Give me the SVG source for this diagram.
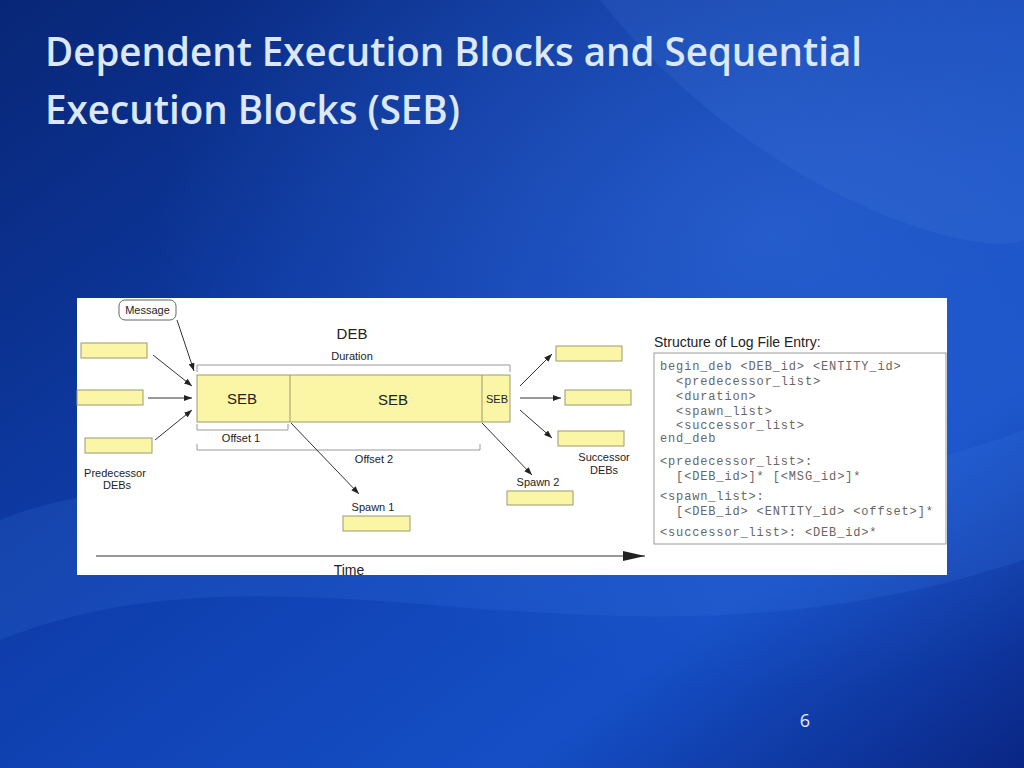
<svg xmlns="http://www.w3.org/2000/svg" width="1024" height="768" viewBox="0 0 1024 768">
<defs>
<linearGradient id="bg" x1="0" y1="0" x2="1" y2="1">
<stop offset="0" stop-color="#082676"/><stop offset="0.45" stop-color="#0f3fae"/><stop offset="0.75" stop-color="#154fc6"/><stop offset="1" stop-color="#0a2684"/>
</linearGradient>
<radialGradient id="glow" cx="0.75" cy="0.3" r="0.6">
<stop offset="0" stop-color="#3f7ae6" stop-opacity="0.45"/><stop offset="1" stop-color="#3f7ae6" stop-opacity="0"/>
</radialGradient>
<marker id="ah" markerWidth="8" markerHeight="6" refX="8" refY="3" orient="auto" markerUnits="userSpaceOnUse"><path d="M0,0 L8,3 L0,6 z" fill="#222"/></marker>
<marker id="big" markerWidth="22" markerHeight="10" refX="22" refY="5" orient="auto" markerUnits="userSpaceOnUse"><path d="M0,0 L22,5 L0,10 z" fill="#222"/></marker>
<style>
.s{font-family:"Liberation Sans",Arial,sans-serif;fill:#222}
.m{font-family:"Liberation Mono","Courier New",monospace;font-size:12px;letter-spacing:0.85px;fill:#666}
.y{fill:#fbf5a6;stroke:#9a9a70;stroke-width:1}
.c{stroke:#333;stroke-width:1;fill:none}
.br{stroke:#999;stroke-width:1;fill:none}
</style>
</defs>
<rect width="1024" height="768" fill="url(#bg)"/>
<rect width="1024" height="768" fill="url(#glow)"/>
<path d="M0,520 C250,420 550,600 1024,430 L1024,560 C600,700 300,520 0,640 z" fill="#3f7ae6" opacity="0.18"/>
<path d="M600,0 C760,200 980,260 1024,240 L1024,0 z" fill="#5b95f2" opacity="0.12"/>
<g id="title" font-family="'Open Sans','Noto Sans',sans-serif" font-weight="600" font-size="40" fill="#dce8f8">
<text x="45" y="66" textLength="817" lengthAdjust="spacingAndGlyphs">Dependent Execution Blocks and Sequential</text>
<text x="45" y="124" textLength="415" lengthAdjust="spacingAndGlyphs">Execution Blocks (SEB)</text>
</g>
<rect x="77" y="298" width="870" height="277" fill="#fff"/>
<g id="nodes">
<g id="message"><rect x="119" y="300" width="57" height="20" rx="6" fill="#fff" stroke="#666"/><text class="s" x="147.5" y="314" font-size="11" text-anchor="middle">Message</text></g>
<g id="deb"><text class="s" x="352" y="339" font-size="15" text-anchor="middle">DEB</text>
<rect class="y" x="197" y="375" width="313" height="47"/>
<line x1="290" y1="375" x2="290" y2="422" stroke="#9a9a70"/><line x1="482" y1="375" x2="482" y2="422" stroke="#9a9a70"/>
<text class="s" x="242" y="404" font-size="15" text-anchor="middle">SEB</text>
<text class="s" x="393" y="405" font-size="15" text-anchor="middle">SEB</text>
<text class="s" x="497" y="403" font-size="11" text-anchor="middle">SEB</text></g>
<g id="brackets">
<path class="br" d="M197,372 V365 H510 V372"/><text class="s" x="352" y="360" font-size="11" text-anchor="middle">Duration</text>
<path class="br" d="M197,424 V430 H288 V424"/><text class="s" x="241" y="442" font-size="11" text-anchor="middle">Offset 1</text>
<path class="br" d="M197,444 V450 H480 V444"/><text class="s" x="374" y="463" font-size="11" text-anchor="middle">Offset 2</text>
</g>
<g id="pred"><rect class="y" x="81" y="343" width="66" height="15"/><rect class="y" x="77" y="390" width="66" height="15"/><rect class="y" x="85" y="438" width="67" height="15"/>
<text class="s" font-size="11" text-anchor="middle"><tspan x="115" y="477">Predecessor</tspan><tspan x="117" y="489">DEBs</tspan></text></g>
<g id="succ"><rect class="y" x="556" y="346" width="66" height="15"/><rect class="y" x="565" y="390" width="66" height="15"/><rect class="y" x="558" y="431" width="66" height="15"/>
<text class="s" font-size="11" text-anchor="middle"><tspan x="604" y="461">Successor</tspan><tspan x="604" y="474">DEBs</tspan></text></g>
<g id="spawn1"><text class="s" x="373" y="511" font-size="11" text-anchor="middle">Spawn 1</text><rect class="y" x="343" y="516" width="67" height="15"/></g>
<g id="spawn2"><text class="s" x="538" y="486" font-size="11" text-anchor="middle">Spawn 2</text><rect class="y" x="507" y="491" width="66" height="14"/></g>
<g id="time"><text class="s" x="349" y="575" font-size="14" text-anchor="middle">Time</text></g>
</g>
<g id="connectors">
<line class="c" x1="177" y1="320" x2="194" y2="371" marker-end="url(#ah)"/>
<line class="c" x1="153" y1="355" x2="192" y2="386" marker-end="url(#ah)"/>
<line class="c" x1="148" y1="398" x2="192" y2="398" marker-end="url(#ah)"/>
<line class="c" x1="155" y1="440" x2="192" y2="410" marker-end="url(#ah)"/>
<line class="c" x1="520" y1="386" x2="552" y2="354" marker-end="url(#ah)"/>
<line class="c" x1="520" y1="398" x2="561" y2="398" marker-end="url(#ah)"/>
<line class="c" x1="520" y1="410" x2="552" y2="438" marker-end="url(#ah)"/>
<line class="c" x1="291" y1="423" x2="359" y2="494" marker-end="url(#ah)"/>
<line class="c" x1="482" y1="423" x2="532" y2="475" marker-end="url(#ah)"/>
<line class="c" x1="96" y1="556" x2="645" y2="556" stroke-width="1.5" marker-end="url(#big)"/>
</g>
<g id="log">
<text class="s" x="654" y="347" font-size="14">Structure of Log File Entry:</text>
<rect x="654" y="353" width="292" height="191" fill="#fff" stroke="#999"/>
<text class="m" xml:space="preserve"><tspan x="660" y="370">begin_deb &lt;DEB_id&gt; &lt;ENTITY_id&gt;</tspan><tspan x="660" y="385">  &lt;predecessor_list&gt;</tspan><tspan x="660" y="400">  &lt;duration&gt;</tspan><tspan x="660" y="415">  &lt;spawn_list&gt;</tspan><tspan x="660" y="429">  &lt;successor_list&gt;</tspan><tspan x="660" y="442">end_deb</tspan><tspan x="660" y="465">&lt;predecessor_list&gt;:</tspan><tspan x="660" y="480">  [&lt;DEB_id&gt;]* [&lt;MSG_id&gt;]*</tspan><tspan x="660" y="500">&lt;spawn_list&gt;:</tspan><tspan x="660" y="515">  [&lt;DEB_id&gt; &lt;ENTITY_id&gt; &lt;offset&gt;]*</tspan><tspan x="660" y="536">&lt;successor_list&gt;: &lt;DEB_id&gt;*</tspan></text>
</g>
<text x="805" y="727" font-family="'Open Sans',sans-serif" font-size="18" fill="#e8eef8" text-anchor="middle">6</text>
</svg>
